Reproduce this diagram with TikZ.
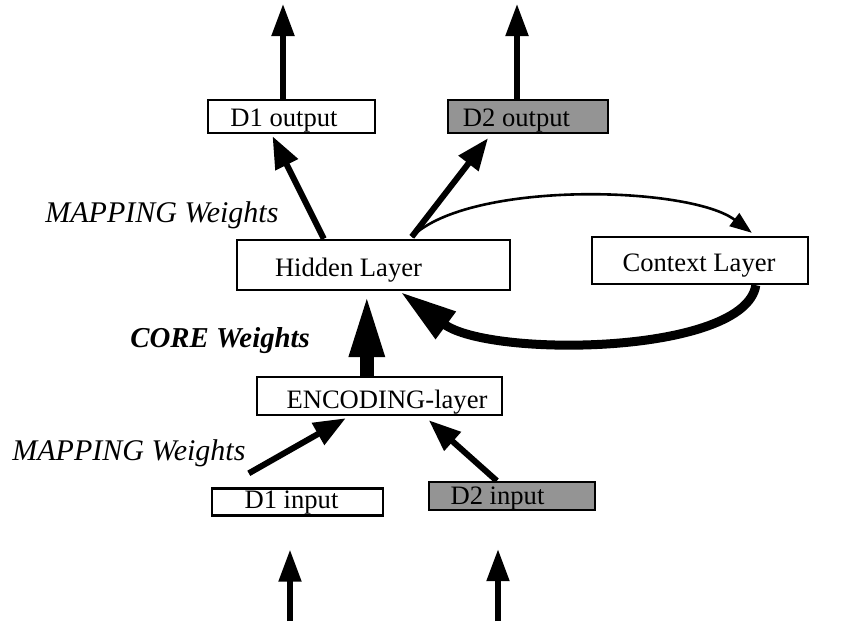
\documentclass[tikz,border=0pt]{standalone}
\usepackage{fontspec}
\setmainfont{Liberation Serif}
\usetikzlibrary{arrows.meta,calc}
\begin{document}
\begin{tikzpicture}[x=0.5pt,y=-0.5pt,
  unitbox/.style={draw, line width=1.2pt, inner sep=0pt},
  shaded/.style={unitbox, fill=black!42},
  boxtext/.style={anchor=base, inner sep=0pt, font=\fontsize{13.3pt}{15pt}\selectfont},
  weightlabel/.style={anchor=base west, inner sep=0pt, font=\fontsize{15pt}{17pt}\selectfont\itshape},
  corelabel/.style={anchor=base west, inner sep=0pt, font=\fontsize{14.4pt}{17pt}\selectfont\bfseries\itshape},
  link/.style={line width=3pt, -{Triangle[length=16pt,width=12pt]}},
  ioarrow/.style={line width=2.6pt, -{Triangle[length=16pt,width=11pt]}},
  copyarrow/.style={line width=1.3pt, -{Triangle[length=11pt,width=8pt]}},
  backarrow/.style={line width=4.5pt, -{Triangle[length=28pt,width=16pt]}},
  corearrow/.style={line width=7pt, -{Triangle[length=32pt,width=16pt]}}]
\useasboundingbox (0,0) rectangle (844,621);

% units
\node[unitbox, minimum width=83.5pt, minimum height=16.5pt] (d1out) at (291.5,116.5) {};
\node[shaded,  minimum width=80pt,   minimum height=16.5pt] (d2out) at (528,116.5) {};
\node[unitbox, minimum width=136.5pt,minimum height=25pt]   (hidden) at (373.5,265) {};
\node[unitbox, minimum width=108pt,  minimum height=23.5pt] (context) at (700,260.5) {};
\node[unitbox, minimum width=122.5pt,minimum height=19pt]   (enc) at (379.5,396) {};
\node[unitbox, minimum width=85.5pt, minimum height=13.5pt] (d1in) at (297.5,502) {};
\node[shaded,  minimum width=83pt,   minimum height=14pt]   (d2in) at (512,496) {};

% unit names
\node[boxtext] (d1outtext) at (284,126) {D1 output};
\node[boxtext] (d2outtext) at (516.5,126) {D2 output};
\node[boxtext] (hiddentext) at (348.5,276) {Hidden Layer};
\node[boxtext] (contexttext) at (699,271) {Context Layer};
\node[boxtext] (enctext) at (387,408) {ENCODING-layer};
\node[boxtext] (d1intext) at (291.5,508) {D1 input};
\node[boxtext] (d2intext) at (497.5,504) {D2 input};

% weight labels
\node[weightlabel] (maptop) at (45,222) {MAPPING Weights};
\node[corelabel] (core) at (130,347) {CORE Weights};
\node[weightlabel] (mapbot) at (12,460) {MAPPING Weights};

% free ends of the input and output lines
\coordinate (out1) at (283,4);
\coordinate (out2) at (517,4);
\coordinate (in1) at (290,621);
\coordinate (in2) at (498,621);

% outputs
\draw[ioarrow] ($(d1out.north)+(-8.5,0)$) -- (out1);
\draw[ioarrow] ($(d2out.north)+(-11,0)$) -- (out2);
% inputs
\draw[ioarrow] (in1) -- ($(d1in.south)+(-7.5,33)$);
\draw[ioarrow] (in2) -- ($(d2in.south)+(-14,38)$);

% mapping weights, hidden to outputs
\draw[link] ($(hidden.north west)+(88,0)$) -- ($(d1out.south)+(-19,2)$);
\draw[link] ($(hidden.north west)+(176,-2)$) -- ($(d2out.south)+(-40,4)$);

% copy to context
\draw[copyarrow] ($(hidden.north west)+(176,-2)$) .. controls (470,180) and (690,186) .. ($(context.north west)+(161,-3)$);
% context back to hidden
\draw[backarrow] ($(context.south west)+(165,0)$) .. controls (745,355) and (490,358) .. ($(hidden.south west)+(165,1)$);

% core weights
\draw[corearrow] ($(enc.north west)+(111,0)$) -- ($(hidden.south west)+(131,2)$);

% mapping weights, inputs to encoding
\draw[link] ($(d1in.north west)+(38,-14)$) -- ($(enc.south west)+(90,2)$);
\draw[link] ($(d2in.north west)+(69,0)$) -- ($(enc.south west)+(173,4)$);
\end{tikzpicture}
\end{document}
